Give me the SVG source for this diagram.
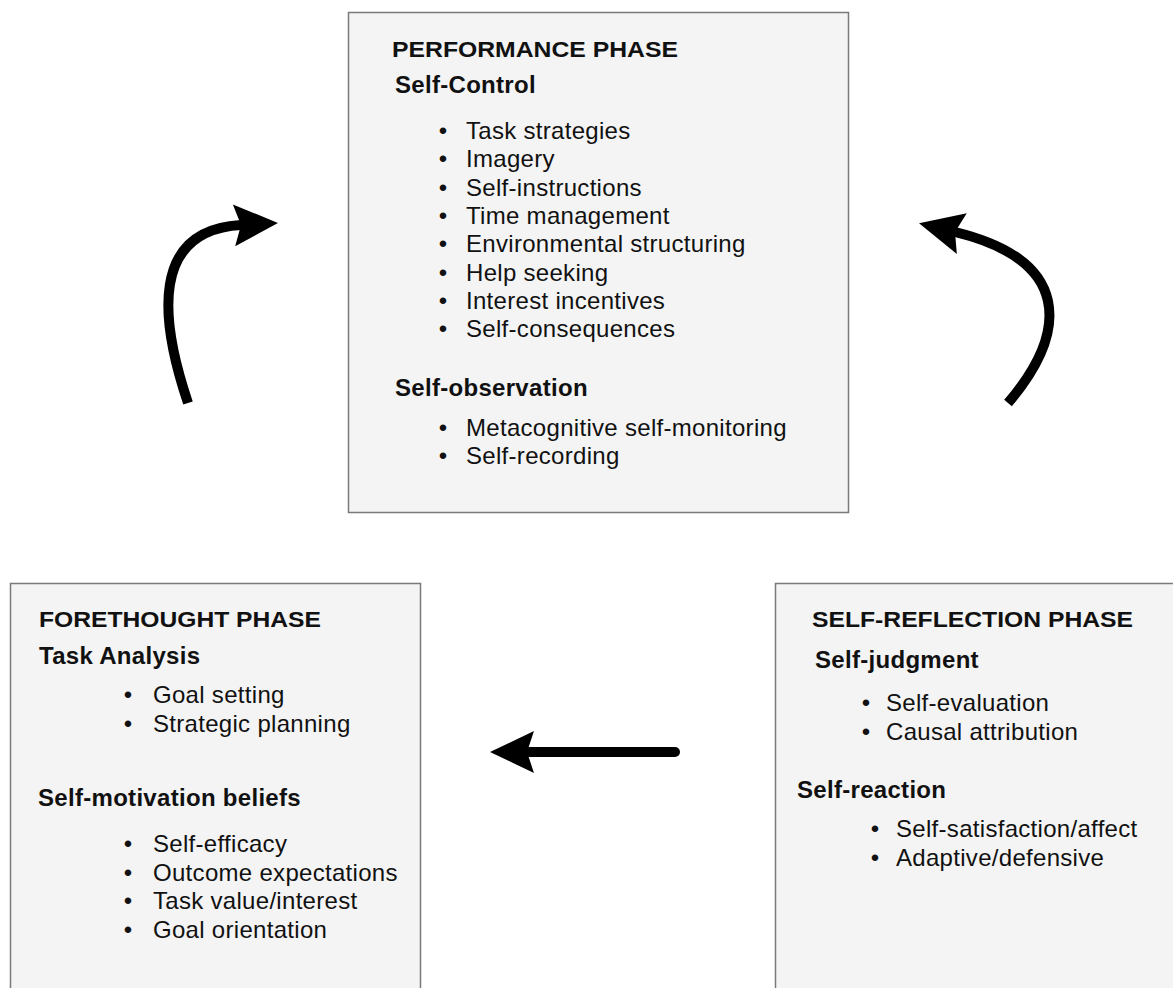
<svg xmlns="http://www.w3.org/2000/svg" width="1173" height="988" viewBox="0 0 1173 988">
  <style>
    .box { fill: #f4f4f4; stroke: #7a7a7a; stroke-width: 1.5; }
    text { font-family: "Liberation Sans", Arial, Helvetica, sans-serif; fill: #111; }
    .title { font-size: 22px; font-weight: bold; }
    .head { font-size: 24px; font-weight: bold; letter-spacing: 0.3px; }
    .item { font-size: 24px; letter-spacing: 0.3px; }
    .dot { font-size: 24px; text-anchor: middle; }
    .link { fill: none; stroke: #000; stroke-width: 10; }
    .curve { stroke-linecap: butt; }
    .straight { stroke-linecap: round; }
  </style>
  <defs>
    <marker id="head" markerUnits="userSpaceOnUse" viewBox="0 -24 46 48" markerWidth="46" markerHeight="48" refX="7" refY="0" orient="auto" overflow="visible">
      <path d="M0,-21 L44,0 L0,21 L7,0 Z" fill="#000"/>
    </marker>
  </defs>

  <rect width="1173" height="988" fill="#fff"/>

  <!-- Performance phase -->
  <g id="performance">
    <rect class="box" x="348.5" y="12.5" width="500" height="500"/>
    <text class="title" x="392" y="57" textLength="286" lengthAdjust="spacingAndGlyphs">PERFORMANCE PHASE</text>
    <text class="head" x="395" y="93">Self-Control</text>
    <text class="dot" x="443" y="139">•</text><text class="item" x="466" y="139">Task strategies</text>
    <text class="dot" x="443" y="167.3">•</text><text class="item" x="466" y="167.3">Imagery</text>
    <text class="dot" x="443" y="195.6">•</text><text class="item" x="466" y="195.6">Self-instructions</text>
    <text class="dot" x="443" y="224">•</text><text class="item" x="466" y="224">Time management</text>
    <text class="dot" x="443" y="252.3">•</text><text class="item" x="466" y="252.3">Environmental structuring</text>
    <text class="dot" x="443" y="280.6">•</text><text class="item" x="466" y="280.6">Help seeking</text>
    <text class="dot" x="443" y="309">•</text><text class="item" x="466" y="309">Interest incentives</text>
    <text class="dot" x="443" y="337.3">•</text><text class="item" x="466" y="337.3">Self-consequences</text>
    <text class="head" x="395" y="396">Self-observation</text>
    <text class="dot" x="443" y="436">•</text><text class="item" x="466" y="436">Metacognitive self-monitoring</text>
    <text class="dot" x="443" y="464">•</text><text class="item" x="466" y="464">Self-recording</text>
  </g>

  <!-- Forethought phase -->
  <g id="forethought">
    <rect class="box" x="10.5" y="583.5" width="410" height="420"/>
    <text class="title" x="39" y="627" textLength="282" lengthAdjust="spacingAndGlyphs">FORETHOUGHT PHASE</text>
    <text class="head" x="39" y="664">Task Analysis</text>
    <text class="dot" x="128" y="703">•</text><text class="item" x="153" y="703">Goal setting</text>
    <text class="dot" x="128" y="732">•</text><text class="item" x="153" y="732">Strategic planning</text>
    <text class="head" x="38" y="806">Self-motivation beliefs</text>
    <text class="dot" x="128" y="852">•</text><text class="item" x="153" y="852">Self-efficacy</text>
    <text class="dot" x="128" y="880.5">•</text><text class="item" x="153" y="880.5">Outcome expectations</text>
    <text class="dot" x="128" y="909">•</text><text class="item" x="153" y="909">Task value/interest</text>
    <text class="dot" x="128" y="937.5">•</text><text class="item" x="153" y="937.5">Goal orientation</text>
  </g>

  <!-- Self-reflection phase -->
  <g id="self-reflection">
    <rect class="box" x="775.5" y="583.5" width="420" height="420"/>
    <text class="title" x="812" y="627" textLength="321" lengthAdjust="spacingAndGlyphs">SELF-REFLECTION PHASE</text>
    <text class="head" x="815" y="668">Self-judgment</text>
    <text class="dot" x="866" y="711">•</text><text class="item" x="886" y="711">Self-evaluation</text>
    <text class="dot" x="866" y="740">•</text><text class="item" x="886" y="740">Causal attribution</text>
    <text class="head" x="797" y="798">Self-reaction</text>
    <text class="dot" x="875" y="837">•</text><text class="item" x="896" y="837">Self-satisfaction/affect</text>
    <text class="dot" x="875" y="866">•</text><text class="item" x="896" y="866">Adaptive/defensive</text>
  </g>

  <!-- Cycle arrows -->
  <g id="connectors">
    <path class="link curve" d="M188,403 C160,320 150,230 241,225" marker-end="url(#head)"/>
    <path class="link curve" d="M1008,403 C1070,330 1070,260 955,232" marker-end="url(#head)"/>
    <path class="link straight" d="M675,752 L527,752" marker-end="url(#head)"/>
  </g>
</svg>
